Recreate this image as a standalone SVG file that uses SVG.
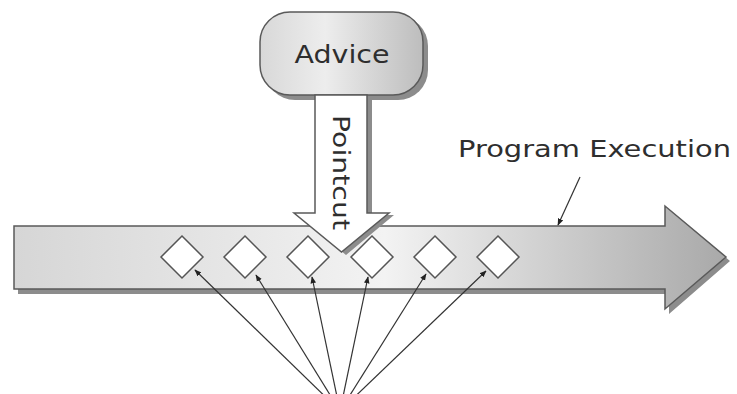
<svg xmlns="http://www.w3.org/2000/svg" width="737" height="394" viewBox="0 0 737 394">
<style>
.lbl{font-family:"DejaVu Sans","Liberation Sans",Arial,sans-serif;fill:#2e2e2e}
.dia{fill:#fff;stroke:#555;stroke-width:1.5}
.shadow{fill:#8c8c8c}
.conn line{stroke:#333;stroke-width:1.2;fill:none}
</style>
<defs>
<linearGradient id="bodyGrad" x1="14" y1="0" x2="726" y2="0" gradientUnits="userSpaceOnUse">
<stop offset="0" stop-color="#d6d6d6"/>
<stop offset="0.3" stop-color="#e6e6e6"/>
<stop offset="0.52" stop-color="#f3f3f3"/>
<stop offset="0.75" stop-color="#cfcfcf"/>
<stop offset="1" stop-color="#a9a9a9"/>
</linearGradient>
<linearGradient id="advGrad" x1="0" y1="0" x2="1" y2="0">
<stop offset="0" stop-color="#d8d8d8"/>
<stop offset="0.4" stop-color="#ededed"/>
<stop offset="1" stop-color="#bdbdbd"/>
</linearGradient>
<marker id="ah" viewBox="0 0 10 10" refX="9" refY="5" markerWidth="7" markerHeight="7" orient="auto" markerUnits="userSpaceOnUse">
<path d="M0,1 L10,5 L0,9 z" fill="#222"/>
</marker>
</defs>

<g id="program-execution">
<path class="shadow" d="M18,230 H669 V210 L730,261 L669,314 V294 H18 z"/>
<path d="M14,226 H665 V206 L726,257 L665,309 V289 H14 z" fill="url(#bodyGrad)" stroke="#5a5a5a" stroke-width="1.5"/>
</g>

<g id="joinpoints">
<path class="dia" d="M182,236 L203,257 L182,278 L161,257 z"/>
<path class="dia" d="M245,236 L266,257 L245,278 L224,257 z"/>
<path class="dia" d="M308,236 L329,257 L308,278 L287,257 z"/>
<path class="dia" d="M372,236 L393,257 L372,278 L351,257 z"/>
<path class="dia" d="M435,236 L456,257 L435,278 L414,257 z"/>
<path class="dia" d="M498,236 L519,257 L498,278 L477,257 z"/>
</g>

<g id="advice">
<rect class="shadow" x="265" y="16" width="163" height="84" rx="30" ry="30"/>
<rect x="260" y="12" width="163" height="83" rx="30" ry="30" fill="url(#advGrad)" stroke="#5a5a5a" stroke-width="1.5"/>
<text class="lbl" x="342" y="63" font-size="24" text-anchor="middle" textLength="95" lengthAdjust="spacingAndGlyphs">Advice</text>
</g>

<g id="pointcut">
<path class="shadow" d="M320,96 H372 V215 H394 L346,255 L298,215 H320 z"/>
<path d="M315,95 H367 V213 H389 L341.5,252 L294,213 H315 z" fill="#fff" stroke="#5a5a5a" stroke-width="1.5"/>
<text class="lbl" transform="translate(333,115) rotate(90)" font-size="23" textLength="115" lengthAdjust="spacingAndGlyphs">Pointcut</text>
</g>

<g id="label">
<text class="lbl" x="458" y="157" font-size="23" textLength="273" lengthAdjust="spacingAndGlyphs">Program Execution</text>
</g>

<g class="conn" id="connectors">
<line x1="580" y1="177" x2="558" y2="225" marker-end="url(#ah)"/>
<line x1="340" y1="411" x2="195" y2="270" marker-end="url(#ah)"/>
<line x1="340" y1="411" x2="256" y2="275" marker-end="url(#ah)"/>
<line x1="340" y1="411" x2="312" y2="277" marker-end="url(#ah)"/>
<line x1="340" y1="411" x2="368" y2="277" marker-end="url(#ah)"/>
<line x1="340" y1="411" x2="426" y2="274" marker-end="url(#ah)"/>
<line x1="340" y1="411" x2="486" y2="271" marker-end="url(#ah)"/>
</g>
</svg>
